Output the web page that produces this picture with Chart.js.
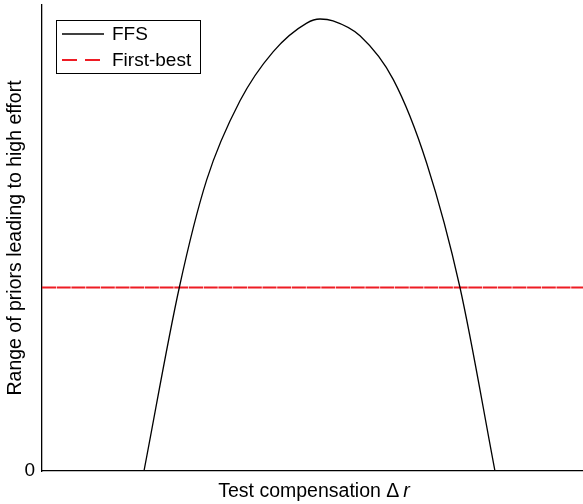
<!DOCTYPE html>
<html>
<head>
<meta charset="utf-8">
<script src="https://cdn.jsdelivr.net/npm/chart.js@4/dist/chart.umd.min.js"></script>
<style>
  html, body { margin: 0; padding: 0; background: #fff; }
  #wrap { width: 583px; height: 504px; }
</style>
</head>
<body>
<div id="wrap"><canvas id="chart"></canvas></div>
<script>
// values (x: 0-100 across the axis, y: share of the peak)
const ffsX = [18.85, 25.38, 30.44, 36.60, 42.75, 48.93, 51.39, 53.79, 58.78, 64.94, 71.11, 77.26, 83.73];
const ffsY = [0, 0.406, 0.644, 0.819, 0.928, 0.991, 1.0, 0.996, 0.963, 0.866, 0.681, 0.406, 0];
const firstBestX = [0, 100];
const firstBestY = [0.406, 0.406];
const yTickLabels = ["0"];

const FONT = "'Liberation Sans', Arial, Helvetica, sans-serif";
const FS = 19.5;

const toPoints = (xs, ys) => xs.map((x, i) => ({ x: x, y: ys[i] }));

// legend in a box, top-left of the plot
const boxLegend = {
    id: "boxLegend",
    afterDatasetsDraw(chart) {
        const ctx = chart.ctx;
        const x0 = 56, y0 = 20, w = 144, h = 53;
        ctx.save();
        ctx.fillStyle = "#fff";
        ctx.fillRect(x0, y0, w, h);
        ctx.strokeStyle = "#000";
        ctx.lineWidth = 1;
        ctx.strokeRect(x0 + 0.5, y0 + 0.5, w, h);
        ctx.font = "19px " + FONT;
        ctx.textBaseline = "middle";
        chart.data.datasets.forEach((ds, i) => {
            const y = y0 + 14 + i * 26;
            ctx.beginPath();
            ctx.strokeStyle = ds.borderColor;
            ctx.lineWidth = ds.borderWidth;
            ctx.setLineDash(ds.legendDash || []);
            ctx.moveTo(62, y);
            ctx.lineTo(104, y);
            ctx.stroke();
            ctx.setLineDash([]);
            ctx.fillStyle = "#000";
            ctx.fillText(ds.label, 112, y + 1);
        });
        ctx.restore();
    }
};

// x title with an italic r
const xTitle = {
    id: "xTitle",
    afterDraw(chart) {
        const ctx = chart.ctx;
        const a = "Test compensation ";
        const b = "\u0394";
        const c = "r";
        ctx.save();
        ctx.fillStyle = "#000";
        ctx.textBaseline = "middle";
        ctx.font = FS + "px " + FONT;
        const wa = ctx.measureText(a).width;
        const wb = ctx.measureText(b).width;
        ctx.font = "italic " + FS + "px " + FONT;
        const wc = ctx.measureText(c).width;
        let x = 314 - (wa + wb + 4 + wc) / 2;
        const y = 492;
        ctx.font = FS + "px " + FONT;
        ctx.fillText(a, x, y);
        x += wa;
        ctx.fillText(b, x, y);
        x += wb + 4;
        ctx.font = "italic " + FS + "px " + FONT;
        ctx.fillText(c, x, y);
        ctx.restore();
    }
};

new Chart(document.getElementById("chart"), {
    type: "line",
    data: {
        datasets: [
            {
                label: "FFS",
                data: toPoints(ffsX, ffsY),
                borderColor: "#000",
                borderWidth: 1.3,
                pointRadius: 0,
                cubicInterpolationMode: "monotone",
                fill: false
            },
            {
                label: "First-best",
                data: toPoints(firstBestX, firstBestY),
                borderColor: "#ee1c24",
                borderWidth: 1.8,
                borderDash: [14, 0.7],
                legendDash: [15, 8],
                pointRadius: 0,
                fill: false
            }
        ]
    },
    options: {
        responsive: true,
        maintainAspectRatio: false,
        animation: false,
        layout: { padding: { top: 5, right: 0, left: 0, bottom: 0 } },
        plugins: {
            legend: { display: false },
            tooltip: { enabled: false }
        },
        scales: {
            x: {
                type: "linear",
                min: 0,
                max: 100,
                grid: { display: false, drawTicks: false },
                border: { display: true, color: "#000", width: 1.3 },
                ticks: { display: false },
                afterFit(scale) {
                    scale.height = 33;
                    scale.paddingLeft = 0;
                    scale.paddingRight = 0;
                }
            },
            y: {
                min: 0,
                max: 1.031,
                grid: { display: false, drawTicks: false },
                border: { display: true, color: "#000", width: 1.3 },
                afterBuildTicks(scale) {
                    scale.ticks = yTickLabels.map(() => ({ value: 0 }));
                },
                ticks: {
                    color: "#000",
                    padding: 7,
                    font: { family: FONT, size: 19 },
                    callback: (v, i) => yTickLabels[i]
                },
                title: {
                    display: true,
                    text: "Range of priors leading to high effort",
                    color: "#000",
                    font: { family: FONT, size: FS },
                    padding: { top: 4, bottom: 0 }
                },
                afterFit(scale) {
                    scale.width = 42;
                    scale.paddingTop = 0;
                    scale.paddingBottom = 0;
                }
            }
        }
    },
    plugins: [boxLegend, xTitle]
});
</script>
</body>
</html>
